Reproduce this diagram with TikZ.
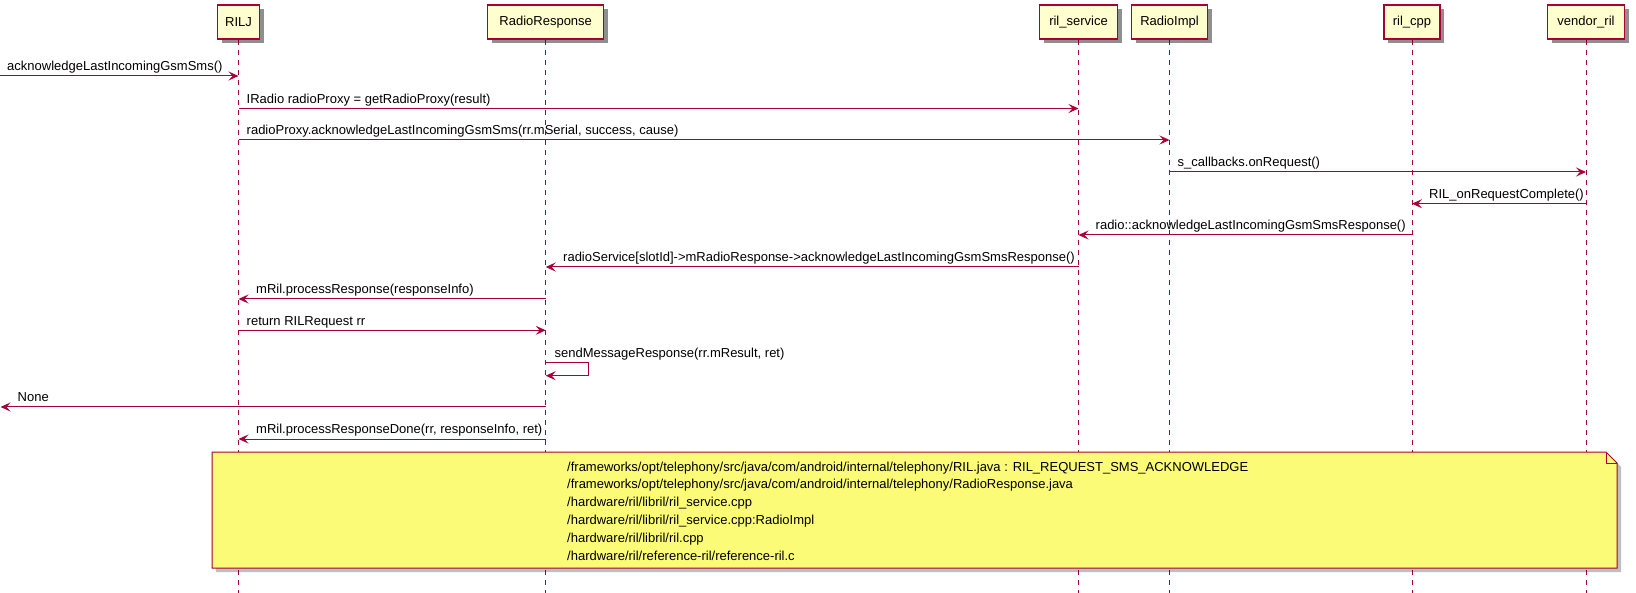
\documentclass[tikz,border=0pt]{standalone}
\usepackage{fontspec}
\setmainfont{Liberation Sans}
\usetikzlibrary{arrows.meta,shadows}
\definecolor{puml}{HTML}{A80036}
\definecolor{pbox}{HTML}{FEFECE}
\definecolor{pnote}{HTML}{FBFB77}
\begin{document}
\begin{tikzpicture}[x=1pt,y=-1pt,
  every node/.style={font=\fontsize{13}{15}\selectfont},
  part/.style={draw=puml, line width=1.5pt, fill=pbox, minimum height=34pt, inner sep=0pt,
    drop shadow={shadow xshift=4pt, shadow yshift=-4pt, fill=black, opacity=0.25}},
  life/.style={draw=puml, line width=0.9pt, dash pattern=on 5pt off 5pt},
  msg/.style={draw=puml, line width=1pt, -{Stealth[length=10pt,width=9pt,inset=4pt]}},
  lbl/.style={inner sep=0pt, anchor=base west},
  notebox/.style={draw=puml, line width=1pt, fill=pnote,
    drop shadow={shadow xshift=4pt, shadow yshift=-4pt, fill=black, opacity=0.25}}
]
\useasboundingbox (0,0) rectangle (1636,593);
% participants
\node[part, minimum width=42pt]  (rilj) at (238.5,22) {RILJ};
\node[part, minimum width=116pt] (rresp) at (545.7,22) {RadioResponse};
\node[part, minimum width=78pt]  (rils) at (1078.5,22) {ril\_service};
\node[part, minimum width=76pt]  (rimpl) at (1169.5,22) {RadioImpl};
\node[part, minimum width=56pt]  (rcpp) at (1412,22) {ril\_cpp};
\node[part, minimum width=77pt]  (vril) at (1586,22) {vendor\_ril};
% lifeline ends
\coordinate (rilj-e) at (238.5,593);
\coordinate (rresp-e) at (545.7,593);
\coordinate (rils-e) at (1078.5,593);
\coordinate (rimpl-e) at (1169.5,593);
\coordinate (rcpp-e) at (1412,593);
\coordinate (vril-e) at (1586,593);
\begin{scope}[on background layer/.style={}]
\foreach \p in {rilj,rresp,rils,rimpl,rcpp,vril}{
  \draw[life] (\p.south) -- (\p-e);
}
\end{scope}
% redraw participants on top
\node[part, minimum width=42pt]  at (rilj) {RILJ};
\node[part, minimum width=116pt] at (rresp) {RadioResponse};
\node[part, minimum width=78pt]  at (rils) {ril\_service};
\node[part, minimum width=76pt]  at (rimpl) {RadioImpl};
\node[part, minimum width=56pt]  at (rcpp) {ril\_cpp};
\node[part, minimum width=77pt]  at (vril) {vendor\_ril};
% messages
\coordinate (in1) at (0,76);
\draw[msg] (in1) -- (rilj.south |- in1);
\node[lbl] (l1) at (7,71) {acknowledgeLastIncomingGsmSms()};

\draw[msg] (rilj.south |- 0,108.5) -- (rils.south |- 0,108.5);
\node[lbl] (l2) at (246.5,103.5) {IRadio radioProxy = getRadioProxy(result)};

\draw[msg] (rilj.south |- 0,140) -- (rimpl.south |- 0,140);
\node[lbl] (l3) at (246.5,135) {radioProxy.acknowledgeLastIncomingGsmSms(rr.mSerial, success, cause)};

\draw[msg] (rimpl.south |- 0,172) -- (vril.south |- 0,172);
\node[lbl] (l4) at (1177.5,167) {s\_callbacks.onRequest()};

\draw[msg] (vril.south |- 0,203.7) -- (rcpp.south |- 0,203.7);
\node[lbl] (l5) at (1429,198.7) {RIL\_onRequestComplete()};

\draw[msg] (rcpp.south |- 0,235) -- (rils.south |- 0,235);
\node[lbl] (l6) at (1095.5,230) {radio::acknowledgeLastIncomingGsmSmsResponse()};

\draw[msg] (rils.south |- 0,267) -- (rresp.south |- 0,267);
\node[lbl] (l7) at (563,262) {radioService[slotId]->mRadioResponse->acknowledgeLastIncomingGsmSmsResponse()};

\draw[msg] (rresp.south |- 0,299) -- (rilj.south |- 0,299);
\node[lbl] (l8) at (256,294) {mRil.processResponse(responseInfo)};

\draw[msg] (rilj.south |- 0,330.3) -- (rresp.south |- 0,330.3);
\node[lbl] (l9) at (246.5,325.3) {return RILRequest rr};

\draw[msg] (rresp.south |- 0,362.7) -- ++(43,0) -- ++(0,13) -- (rresp.south |- 0,375.7);
\node[lbl] (l10) at (554.5,357.7) {sendMessageResponse(rr.mResult, ret)};

\coordinate (out1) at (0.5,407);
\draw[msg] (rresp.south |- out1) -- (out1);
\node[lbl] (l11) at (17.5,402) {None};

\draw[msg] (rresp.south |- 0,439) -- (rilj.south |- 0,439);
\node[lbl] (l12) at (256,434) {mRil.processResponseDone(rr, responseInfo, ret)};
% note
\draw[notebox] (212,452) -- (1606,452) -- (1617,463) -- (1617,568) -- (212,568) -- cycle;
\draw[draw=puml, line width=1pt] (1606,452) -- (1606,463) -- (1617,463);
\node[inner sep=0pt, anchor=north west, align=left, font=\fontsize{13}{17.8}\selectfont] (note) at (567,461.5) {%
/frameworks/opt/telephony/src/java/com/android/internal/telephony/RIL.java : RIL\_REQUEST\_SMS\_ACKNOWLEDGE\\
/frameworks/opt/telephony/src/java/com/android/internal/telephony/RadioResponse.java\\
/hardware/ril/libril/ril\_service.cpp\\
/hardware/ril/libril/ril\_service.cpp:RadioImpl\\
/hardware/ril/libril/ril.cpp\\
/hardware/ril/reference-ril/reference-ril.c};
\end{tikzpicture}
\end{document}
